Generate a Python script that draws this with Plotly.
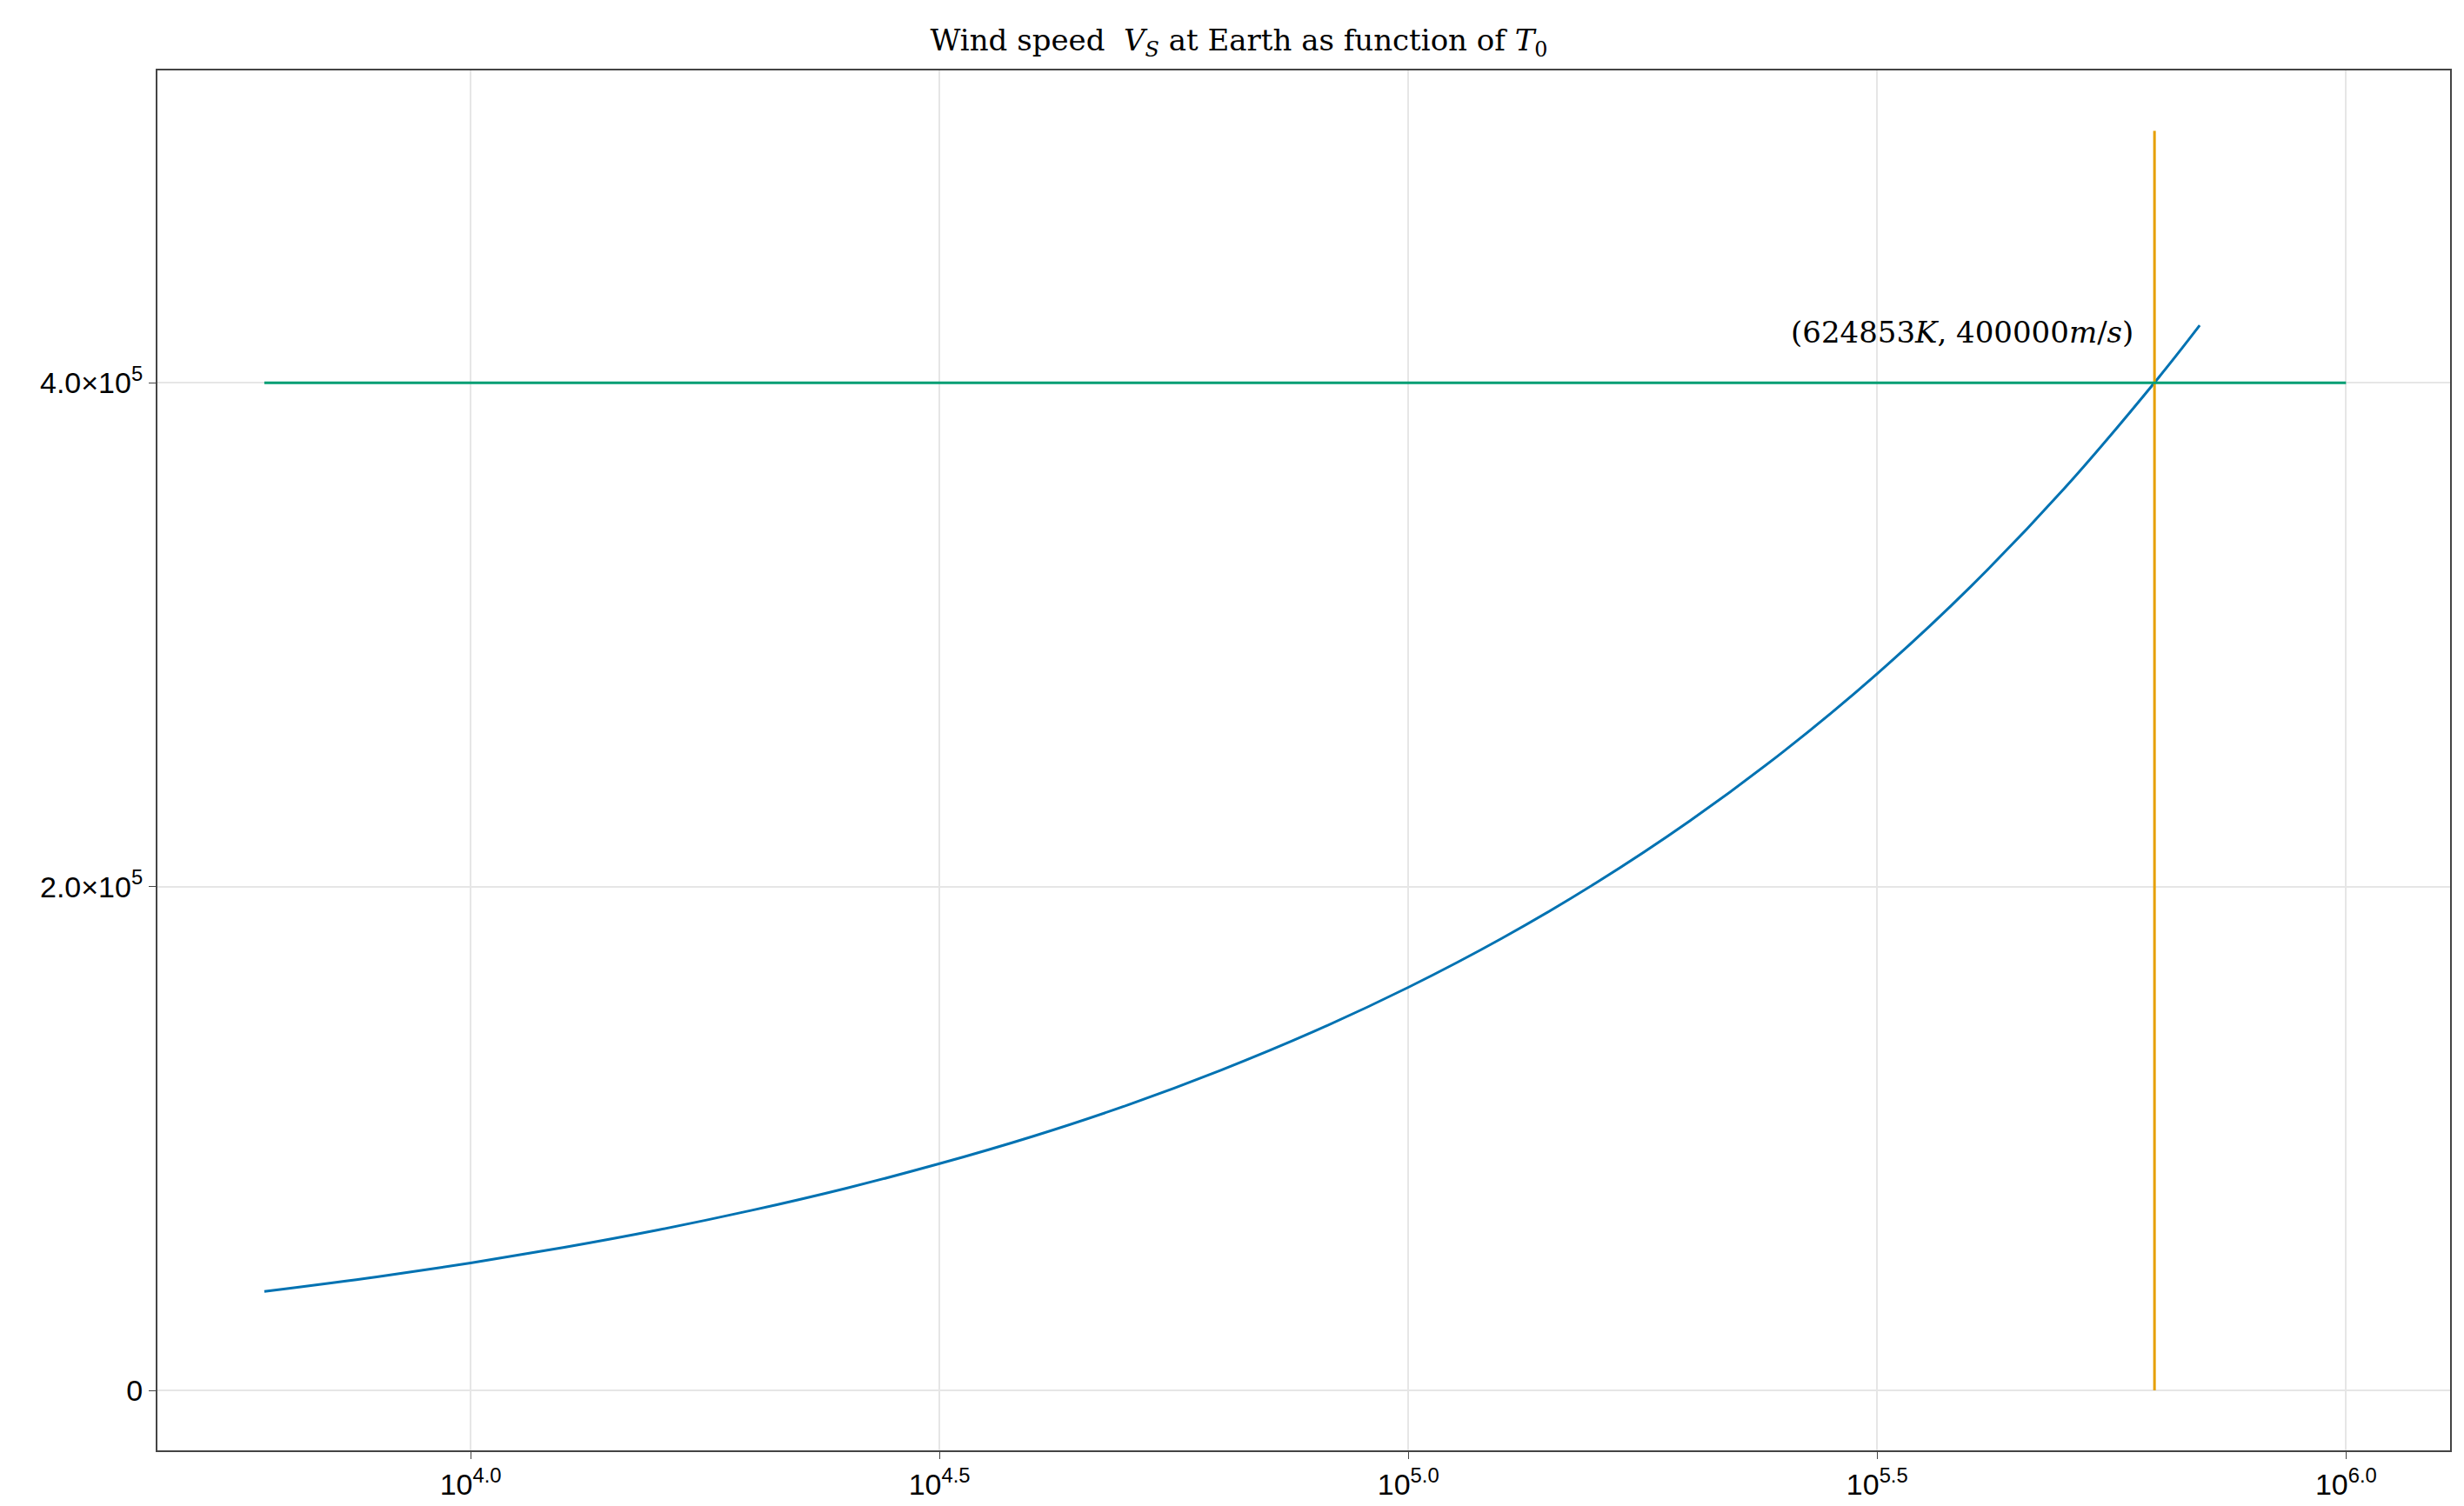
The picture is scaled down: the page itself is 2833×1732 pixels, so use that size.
import plotly.graph_objects as go

# wind speed curve
log_t0 = [3.78, 3.9, 4.0, 4.1, 4.2, 4.3, 4.4, 4.5, 4.6, 4.7, 4.8, 4.9, 5.0,
          5.1, 5.2, 5.3, 5.4, 5.5, 5.6, 5.7, 5.8, 5.844]
v_s = [39300, 45100, 50600, 56800, 63700, 71500, 80200, 90000, 100900, 113200,
       127100, 142600, 160000, 179500, 201400, 226000, 253600, 284500, 319200,
       358200, 402000, 422800]
t0 = [10 ** v for v in log_t0]

target_speed = 400000
hline_x = [10 ** 3.78, 10 ** 6.0]
cross_t = 624853
vline_y = [0, 500000]

x_ticks = [1e4, 10 ** 4.5, 1e5, 10 ** 5.5, 1e6]
x_labels = ["10<sup>4.0</sup>", "10<sup>4.5</sup>", "10<sup>5.0</sup>", "10<sup>5.5</sup>", "10<sup>6.0</sup>"]
y_ticks = [0, 200000, 400000]
y_labels = ["0", "2.0×10<sup>5</sup>", "4.0×10<sup>5</sup>"]

fig = go.Figure()
fig.add_trace(go.Scatter(x=t0, y=v_s, mode="lines", line=dict(color="#0072B2", width=3, shape="spline")))
fig.add_trace(go.Scatter(x=[cross_t, cross_t], y=vline_y, mode="lines", line=dict(color="#E69F00", width=3)))
fig.add_trace(go.Scatter(x=hline_x, y=[target_speed, target_speed], mode="lines", line=dict(color="#009E73", width=3)))

# log axis: annotation x is given in log10 units
fig.add_annotation(x=5.775, y=420000, xref="x", yref="y", showarrow=False,
                   xanchor="right", yanchor="middle",
                   text="(624853<i>K</i>, 400000<i>m</i>/<i>s</i>)",
                   font=dict(family="DejaVu Serif", size=34, color="black"))

axis_style = dict(showline=True, mirror=True, linecolor="#444", linewidth=2,
                  gridcolor="#e6e6e6", gridwidth=2, zeroline=False, ticks="outside",
                  ticklen=8, tickcolor="#444", tickfont=dict(family="Liberation Sans", size=34, color="black"))

fig.update_layout(
    width=2833, height=1732,
    plot_bgcolor="white", paper_bgcolor="white",
    showlegend=False,
    margin=dict(l=173, r=24, t=73, b=72),
    title=dict(text="Wind speed  <i>V<sub>S</sub></i> at Earth as function of <i>T</i><sub>0</sub>",
               x=0.5, xanchor="center", y=0.985, yanchor="top",
               font=dict(family="DejaVu Serif", size=34, color="black")),
    xaxis=dict(type="log", range=[3.666, 6.111], tickvals=x_ticks, ticktext=x_labels, **axis_style),
    yaxis=dict(range=[-23800, 524000], tickvals=y_ticks, ticktext=y_labels, **axis_style),
)

fig.write_html("out.html")
